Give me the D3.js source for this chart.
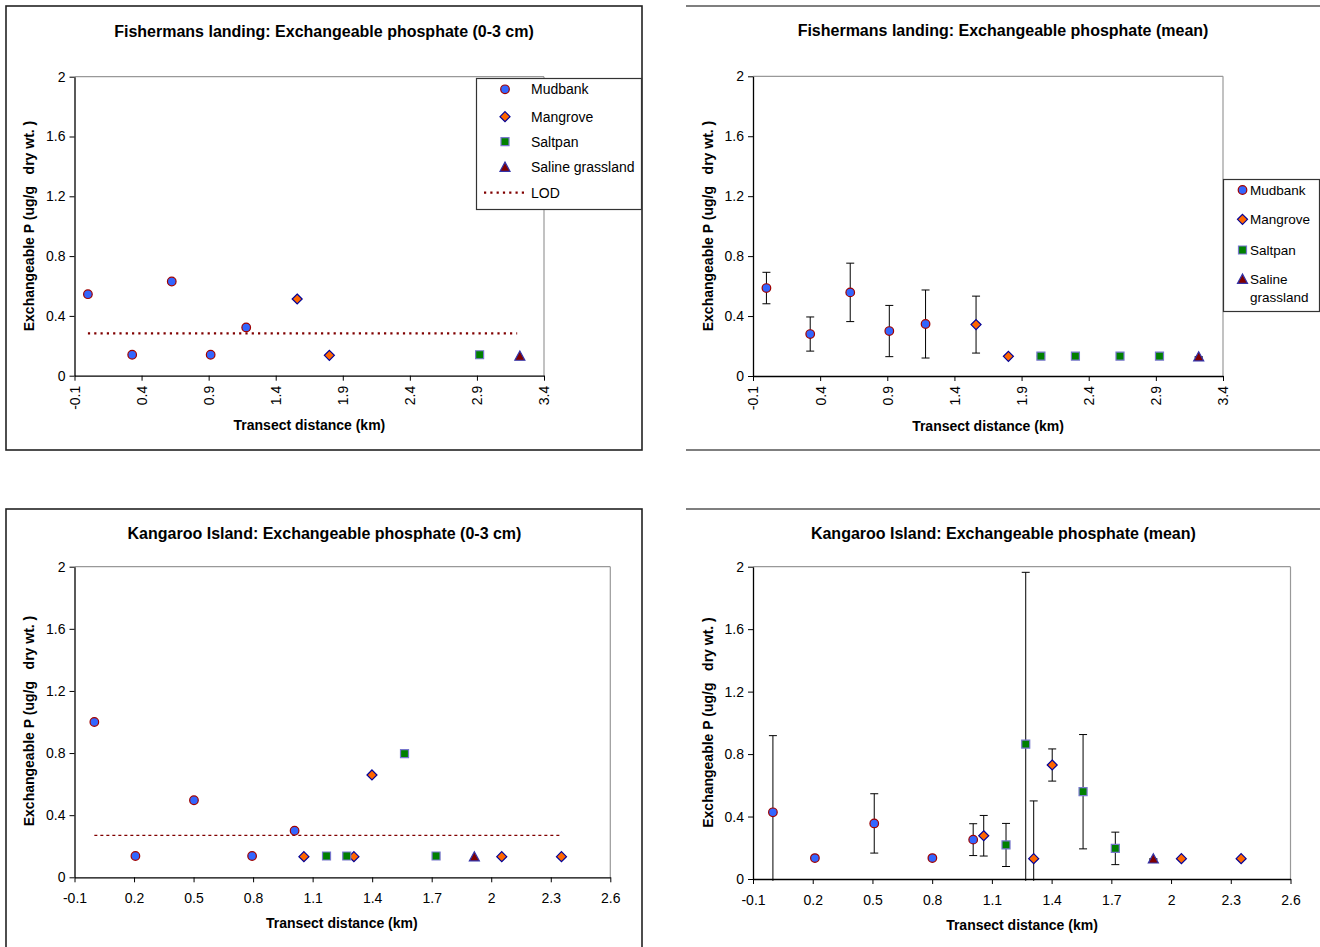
<!DOCTYPE html>
<html><head><meta charset="utf-8">
<script src="https://cdn.jsdelivr.net/npm/d3@7"></script>
<style>
html,body{margin:0;padding:0;background:#fff;}
svg text{font-family:"Liberation Sans",Arial,sans-serif;fill:#000;}
</style></head>
<body>
<svg id="c" width="1320" height="947"></svg>
<script>
// ---------- DATA ----------
const seriesNames = ["Mudbank","Mangrove","Saltpan","Saline grassland"];
const yTicks = [0, 0.4, 0.8, 1.2, 1.6, 2];
const yTickLabels = ["0","0.4","0.8","1.2","1.6","2"];
const xTicksFL = [-0.1, 0.4, 0.9, 1.4, 1.9, 2.4, 2.9, 3.4];
const xTickLabelsFL = ["-0.1","0.4","0.9","1.4","1.9","2.4","2.9","3.4"];
const xTicksKI = [-0.1, 0.2, 0.5, 0.8, 1.1, 1.4, 1.7, 2, 2.3, 2.6];
const xTickLabelsKI = ["-0.1","0.2","0.5","0.8","1.1","1.4","1.7","2","2.3","2.6"];

// Fishermans landing 0-3 cm: [distance, P]
const fl03Mudbank = [[0.0,0.545],[0.33,0.14],[0.625,0.63],[0.915,0.14],[1.18,0.323]];
const fl03Mangrove = [[1.56,0.513],[1.80,0.136]];
const fl03Saltpan = [[2.92,0.14]];
const fl03Saline = [[3.22,0.13]];
const fl03LOD = [[0.0,0.283],[3.2,0.283]];

// Fishermans landing mean: [distance, mean, error]
const flMeanMudbank = [[0.0,0.587,0.105],[0.326,0.28,0.114],[0.624,0.558,0.195],[0.915,0.30,0.171],[1.185,0.347,0.227]];
const flMeanMangrove = [[1.561,0.343,0.19],[1.802,0.131,0]];
const flMeanSaltpan = [[2.044,0.133,0],[2.301,0.133,0],[2.633,0.133,0],[2.927,0.133,0]];
const flMeanSaline = [[3.219,0.127,0]];

// Kangaroo Island 0-3 cm
const ki03Mudbank = [[0.0,1.0],[0.207,0.137],[0.502,0.496],[0.795,0.137],[1.009,0.30]];
const ki03Mangrove = [[1.056,0.133],[1.308,0.133],[1.399,0.659],[2.053,0.133],[2.354,0.133]];
const ki03Saltpan = [[1.17,0.137],[1.272,0.137],[1.563,0.796],[1.722,0.137]];
const ki03Saline = [[1.915,0.131]];
const ki03LOD = [[0.0,0.27],[2.345,0.27]];

// Kangaroo Island mean
const kiMeanMudbank = [[0.0,0.427,0.491],[0.211,0.134,0],[0.509,0.356,0.19],[0.801,0.134,0],[1.006,0.252,0.102]];
const kiMeanMangrove = [[1.059,0.277,0.13],[1.310,0.130,0.37],[1.403,0.730,0.103],[2.052,0.130,0],[2.352,0.130,0]];
const kiMeanSaltpan = [[1.171,0.218,0.138],[1.270,0.864,1.10],[1.558,0.559,0.366],[1.720,0.196,0.104]];
const kiMeanSaline = [[1.911,0.128,0]];

// ---------- STYLE ----------
const styles = {
  "Mudbank": {shape:"circle", fill:"#3366FF", stroke:"#A00000"},
  "Mangrove": {shape:"diamond", fill:"#FF6600", stroke:"#000099"},
  "Saltpan": {shape:"square", fill:"#008000", stroke:"#7777CC"},
  "Saline grassland": {shape:"triangle", fill:"#800000", stroke:"#3333AA"}
};
function shapePath(s){
  if(s==="circle") return d3.symbol().type(d3.symbolCircle).size(Math.PI*4.3*4.3)();
  if(s==="diamond") return "M0,-5L5,0L0,5L-5,0Z";
  if(s==="square") return "M-4,-4L4,-4L4,4L-4,4Z";
  return "M0,-5.2L5,4L-5,4Z";
}
const svg = d3.select("#c");

function drawPanel(cfg){
  const g = svg.append("g");
  const x = d3.scaleLinear().domain(cfg.xDomain).range([cfg.left, cfg.right]);
  const y = d3.scaleLinear().domain([0,2]).range([cfg.bottom, cfg.top]);
  // frame of plot area
  g.append("line").attr("x1",cfg.left).attr("x2",cfg.right).attr("y1",cfg.top).attr("y2",cfg.top).attr("stroke","#999").attr("stroke-width",1.2);
  g.append("line").attr("x1",cfg.right).attr("x2",cfg.right).attr("y1",cfg.top).attr("y2",cfg.bottom).attr("stroke","#999").attr("stroke-width",1.2);
  // y axis
  const ya = g.append("g").attr("transform",`translate(${cfg.left},0)`)
    .call(d3.axisLeft(y).tickValues(yTicks).tickFormat((d,i)=>yTickLabels[i]).tickSize(5).tickSizeOuter(0).tickPadding(4));
  ya.select(".domain").attr("stroke","#000").attr("stroke-width",1.3);
  ya.selectAll(".tick line").attr("stroke","#000");
  ya.selectAll("text").attr("font-size",14).attr("font-family","Liberation Sans, Arial, sans-serif").attr("fill","#000");
  // x axis
  const xa = g.append("g").attr("transform",`translate(0,${cfg.bottom})`)
    .call(d3.axisBottom(x).tickValues(cfg.xTicks).tickFormat((d,i)=>cfg.xLabels[i]).tickSize(5).tickSizeOuter(0).tickPadding(6));
  xa.select(".domain").attr("stroke","#000").attr("stroke-width",1.3);
  xa.selectAll(".tick line").attr("stroke","#000");
  xa.selectAll("text").attr("font-size",14).attr("font-family","Liberation Sans, Arial, sans-serif").attr("fill","#000");
  if(cfg.rotate){
    xa.selectAll(".tick text").attr("transform","rotate(-90)").attr("text-anchor","end")
      .attr("x",-10).attr("y",0).attr("dy","0.35em");
  } else {
    xa.selectAll(".tick text").attr("dy","1.05em");
  }
  // LOD
  if(cfg.lod){
    g.append("line").attr("x1",x(cfg.lod[0][0])).attr("x2",x(cfg.lod[1][0]))
      .attr("y1",y(cfg.lod[0][1])).attr("y2",y(cfg.lod[1][1]))
      .attr("stroke","#800000").attr("stroke-width",cfg.lodWidth).attr("stroke-dasharray",cfg.lodDash);
  }
  // error bars
  cfg.series.forEach((data,si)=>{
    data.forEach(p=>{
      if(p.length<3) return;
      const e = p[2];
      const hi = Math.min(p[1]+e, 2), lo = Math.max(p[1]-e, -0.012);
      const cx = x(p[0]);
      g.append("line").attr("x1",cx).attr("x2",cx).attr("y1",y(hi)).attr("y2",y(lo)).attr("stroke","#000").attr("stroke-width",1);
      g.append("line").attr("x1",cx-4).attr("x2",cx+4).attr("y1",y(hi)).attr("y2",y(hi)).attr("stroke","#000").attr("stroke-width",1);
      if(p[1]-e >= 0)
        g.append("line").attr("x1",cx-4).attr("x2",cx+4).attr("y1",y(lo)).attr("y2",y(lo)).attr("stroke","#000").attr("stroke-width",1);
    });
  });
  // markers
  cfg.series.forEach((data,si)=>{
    const st = styles[seriesNames[si]];
    g.selectAll(null).data(data).enter().append("path")
      .attr("d",shapePath(st.shape))
      .attr("transform",d=>`translate(${x(d[0])},${y(d[1])})`)
      .attr("fill",st.fill).attr("stroke",st.stroke).attr("stroke-width",1.2);
  });
  // titles
  g.append("text").attr("x",cfg.titleX).attr("y",cfg.titleY).attr("text-anchor","middle")
    .attr("font-size",16).attr("font-weight","bold").text(cfg.title);
  g.append("text").attr("x",cfg.xTitleX).attr("y",cfg.xTitleY).attr("text-anchor","middle")
    .attr("font-size",14).attr("font-weight","bold").text("Transect distance (km)");
  g.append("text").attr("transform",`translate(${cfg.yTitleX},${cfg.yTitleY}) rotate(-90)`)
    .attr("text-anchor","middle").attr("dy","0.35em").attr("font-size",14).attr("font-weight","bold")
    .style("white-space","pre").text("Exchangeable P (ug/g   dry wt. )");
}

// panel frames
svg.append("rect").attr("x",6).attr("y",6).attr("width",636).attr("height",444).attr("fill","none").attr("stroke","#222").attr("stroke-width",1.6);
svg.append("rect").attr("x",6).attr("y",509).attr("width",636).attr("height",460).attr("fill","none").attr("stroke","#222").attr("stroke-width",1.6);
svg.append("line").attr("x1",686).attr("x2",1320).attr("y1",6).attr("y2",6).attr("stroke","#000").attr("stroke-width",1.2);
svg.append("line").attr("x1",686).attr("x2",1320).attr("y1",450).attr("y2",450).attr("stroke","#000").attr("stroke-width",1.2);
svg.append("line").attr("x1",686).attr("x2",1320).attr("y1",509).attr("y2",509).attr("stroke","#000").attr("stroke-width",1.2);

drawPanel({xDomain:[-0.1,3.4], left:74.5, right:544, top:76.7, bottom:375.7, xTicks:xTicksFL, xLabels:xTickLabelsFL, rotate:true,
  series:[fl03Mudbank,fl03Mangrove,fl03Saltpan,fl03Saline], lod:fl03LOD, lodWidth:2.2, lodDash:"2.2,4.1",
  title:"Fishermans landing: Exchangeable phosphate (0-3 cm)", titleX:324, titleY:37,
  xTitleX:309.4, xTitleY:429.5, yTitleX:29.5, yTitleY:226});
drawPanel({xDomain:[-0.1,3.4], left:753, right:1223, top:76.3, bottom:376, xTicks:xTicksFL, xLabels:xTickLabelsFL, rotate:true,
  series:[flMeanMudbank,flMeanMangrove,flMeanSaltpan,flMeanSaline],
  title:"Fishermans landing: Exchangeable phosphate (mean)", titleX:1003, titleY:36,
  xTitleX:988, xTitleY:431, yTitleX:708.4, yTitleY:226});
drawPanel({xDomain:[-0.1,2.6], left:74.5, right:610.3, top:566.7, bottom:877.3, xTicks:xTicksKI, xLabels:xTickLabelsKI, rotate:false,
  series:[ki03Mudbank,ki03Mangrove,ki03Saltpan,ki03Saline], lod:ki03LOD, lodWidth:1.2, lodDash:"3,3",
  title:"Kangaroo Island: Exchangeable phosphate (0-3 cm)", titleX:324.5, titleY:539,
  xTitleX:341.8, xTitleY:927.5, yTitleX:29.5, yTitleY:721});
drawPanel({xDomain:[-0.1,2.6], left:753, right:1290.5, top:566.7, bottom:879, xTicks:xTicksKI, xLabels:xTickLabelsKI, rotate:false,
  series:[kiMeanMudbank,kiMeanMangrove,kiMeanSaltpan,kiMeanSaline],
  title:"Kangaroo Island: Exchangeable phosphate (mean)", titleX:1003.4, titleY:539,
  xTitleX:1022, xTitleY:930, yTitleX:708.4, yTitleY:722.5});

// legend 1
(function(){
  const lg = svg.append("g");
  lg.append("rect").attr("x",476.5).attr("y",78.5).attr("width",165).attr("height",131).attr("fill","#fff").attr("stroke","#333").attr("stroke-width",1.2);
  const ys = [89.3,116.7,141.7,167.3];
  seriesNames.forEach((n,i)=>{
    const st = styles[n];
    lg.append("path").attr("d",shapePath(st.shape)).attr("transform",`translate(505,${ys[i]})`).attr("fill",st.fill).attr("stroke",st.stroke).attr("stroke-width",1.2);
    lg.append("text").attr("x",531).attr("y",ys[i]).attr("dy","0.35em").attr("font-size",14).text(n);
  });
  lg.append("line").attr("x1",484).attr("x2",527).attr("y1",192.7).attr("y2",192.7).attr("stroke","#800000").attr("stroke-width",2.2).attr("stroke-dasharray","2.2,4.1");
  lg.append("text").attr("x",531).attr("y",192.7).attr("dy","0.35em").attr("font-size",14).text("LOD");
})();
// legend 2
(function(){
  const lg = svg.append("g");
  lg.append("rect").attr("x",1223.5).attr("y",179.5).attr("width",96).attr("height",132).attr("fill","#fff").attr("stroke","#333").attr("stroke-width",1.2);
  const ys = [190,219.3,250,279.3];
  seriesNames.forEach((n,i)=>{
    const st = styles[n];
    lg.append("path").attr("d",shapePath(st.shape)).attr("transform",`translate(1242.5,${ys[i]})`).attr("fill",st.fill).attr("stroke",st.stroke).attr("stroke-width",1.2);
    const label = n==="Saline grassland" ? "Saline" : n;
    lg.append("text").attr("x",1250).attr("y",ys[i]).attr("dy","0.35em").attr("font-size",13.5).text(label);
  });
  lg.append("text").attr("x",1250).attr("y",297.3).attr("dy","0.35em").attr("font-size",13.5).text("grassland");
})();
</script>
</body></html>
